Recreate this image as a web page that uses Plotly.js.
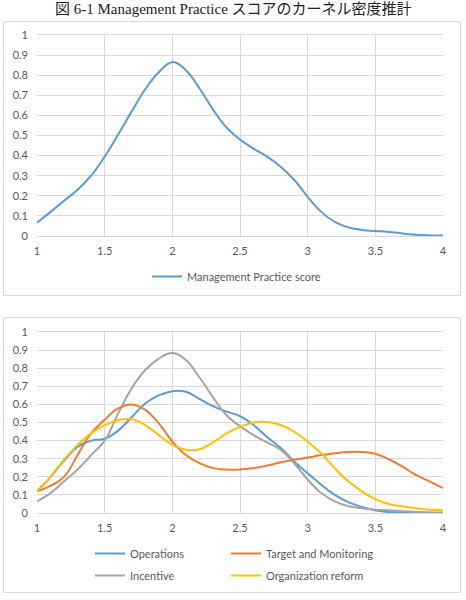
<!DOCTYPE html>
<html>
<head>
<meta charset="utf-8">
<script src="https://cdn.plot.ly/plotly-3.0.1.min.js"></script>
<style>
  html, body { margin: 0; padding: 0; background: #ffffff; }
  #chart { width: 466px; height: 600px; }
</style>
</head>
<body>
<div id="chart"></div>
<script>
// Score grid (x axis) shared by every density curve
const scoreGrid = [1.0, 1.1, 1.2, 1.3, 1.4, 1.5, 1.6, 1.7, 1.8, 1.9,
                   2.0, 2.1, 2.2, 2.3, 2.4, 2.5, 2.6, 2.7, 2.8, 2.9,
                   3.0, 3.1, 3.2, 3.3, 3.4, 3.5, 3.6, 3.7, 3.8, 3.9, 4.0];

// Kernel density of the overall Management Practice score
const managementScore = [0.066, 0.12, 0.175, 0.23, 0.30, 0.395, 0.505, 0.62, 0.73, 0.815,
                         0.865, 0.825, 0.735, 0.63, 0.54, 0.48, 0.435, 0.395, 0.345, 0.28,
                         0.195, 0.12, 0.07, 0.043, 0.03, 0.025, 0.02, 0.013, 0.006, 0.003, 0.002];

// Kernel densities by practice area
const operations = [0.12, 0.20, 0.29, 0.365, 0.40, 0.41, 0.455, 0.53, 0.605, 0.65,
                    0.673, 0.67, 0.63, 0.59, 0.56, 0.535, 0.486, 0.42, 0.36, 0.285,
                    0.22, 0.156, 0.10, 0.06, 0.033, 0.015, 0.005, 0.002, 0.001, 0.001, 0.001];
const targetMonitoring = [0.12, 0.15, 0.20, 0.32, 0.44, 0.515, 0.578, 0.60, 0.57, 0.495,
                          0.395, 0.32, 0.275, 0.248, 0.24, 0.24, 0.248, 0.262, 0.28, 0.294,
                          0.306, 0.32, 0.33, 0.337, 0.337, 0.327, 0.297, 0.257, 0.21, 0.175, 0.138];
const incentive = [0.064, 0.11, 0.175, 0.24, 0.32, 0.40, 0.55, 0.69, 0.79, 0.853,
                   0.884, 0.845, 0.75, 0.64, 0.54, 0.48, 0.43, 0.39, 0.35, 0.275,
                   0.185, 0.11, 0.064, 0.037, 0.026, 0.018, 0.015, 0.01, 0.006, 0.003, 0.002];
const orgReform = [0.12, 0.20, 0.295, 0.375, 0.44, 0.485, 0.513, 0.518, 0.486, 0.43,
                   0.376, 0.35, 0.352, 0.39, 0.44, 0.475, 0.50, 0.503, 0.486, 0.45,
                   0.394, 0.33, 0.248, 0.175, 0.12, 0.077, 0.05, 0.037, 0.026, 0.018, 0.015];

const xTicks = [1, 1.5, 2, 2.5, 3, 3.5, 4];
const xTickText = ['1', '1.5', '2', '2.5', '3', '3.5', '4'];
const yTicks = [0, 0.1, 0.2, 0.3, 0.4, 0.5, 0.6, 0.7, 0.8, 0.9, 1];
const yTickText = ['0', '0.1', '0.2', '0.3', '0.4', '0.5', '0.6', '0.7', '0.8', '0.9', '1'];

const W = 466, H = 600;
const px = v => v / W;           // pixel -> paper x
const py = v => 1 - v / H;       // pixel -> paper y

const labelFont = { family: 'Lato, "Liberation Sans", sans-serif', size: 11, color: '#595959' };
const gridColor = '#d9d9d9';

function curve(y, name, color, xa, ya, legend) {
  return {
    x: scoreGrid, y: y, name: name, type: 'scatter', mode: 'lines',
    line: { color: color, width: 2, shape: 'spline', smoothing: 1.2 },
    xaxis: xa, yaxis: ya, legend: legend, legendgroup: name, hoverinfo: 'x+y+name'
  };
}

const traces = [
  curve(managementScore, 'Management Practice score', '#5b9bd5', 'x', 'y', 'legend'),
  curve(operations, 'Operations', '#5b9bd5', 'x2', 'y2', 'legend2'),
  curve(incentive, 'Incentive', '#a5a5a5', 'x2', 'y2', 'legend2'),
  curve(targetMonitoring, 'Target and Monitoring', '#ed7d31', 'x2', 'y2', 'legend3'),
  curve(orgReform, 'Organization reform', '#ffc000', 'x2', 'y2', 'legend3')
];

function xAxis(anchor) {
  return {
    domain: [px(37), px(443)], anchor: anchor, range: [1, 4],
    tickvals: xTicks, ticktext: xTickText, showgrid: true, gridcolor: gridColor, gridwidth: 1,
    zeroline: false, showline: true, linecolor: gridColor, mirror: true,
    ticks: '', tickfont: labelFont, ticklabelstandoff: 5, fixedrange: true
  };
}
function yAxis(anchor, domain) {
  return {
    domain: domain, anchor: anchor, range: [0, 1],
    tickvals: yTicks, ticktext: yTickText, showgrid: true, gridcolor: gridColor, gridwidth: 1,
    zeroline: false, showline: false, ticks: '', tickfont: labelFont,
    ticklabelstandoff: 8, fixedrange: true
  };
}

const legendBase = {
  font: labelFont, bgcolor: 'rgba(0,0,0,0)', borderwidth: 0,
  orientation: 'v', xanchor: 'left', yanchor: 'top',
  traceorder: 'grouped', tracegroupgap: 3,
  itemclick: false, itemdoubleclick: false
};

const layout = {
  width: W, height: H,
  margin: { l: 0, r: 0, t: 0, b: 0 },
  paper_bgcolor: '#ffffff', plot_bgcolor: '#ffffff',
  showlegend: true,
  xaxis: xAxis('y'),
  yaxis: yAxis('x', [py(236), py(35)]),
  xaxis2: xAxis('y2'),
  yaxis2: yAxis('x2', [py(513), py(332)]),
  legend: Object.assign({}, legendBase, { x: px(147), y: py(262) }),
  legend2: Object.assign({}, legendBase, { x: px(90), y: py(539) }),
  legend3: Object.assign({}, legendBase, { x: px(226), y: py(539) }),
  shapes: [
    { type: 'rect', xref: 'paper', yref: 'paper', x0: px(3.5), x1: px(460.5), y0: py(295.5), y1: py(21.5),
      line: { color: '#d9d9d9', width: 1 }, fillcolor: 'rgba(0,0,0,0)', layer: 'below' },
    { type: 'rect', xref: 'paper', yref: 'paper', x0: px(3.5), x1: px(460.5), y0: py(592.5), y1: py(317.5),
      line: { color: '#d9d9d9', width: 1 }, fillcolor: 'rgba(0,0,0,0)', layer: 'below' }
  ],
  annotations: [
    { text: '図 6-1 Management Practice スコアのカーネル密度推計',
      xref: 'paper', yref: 'paper', x: px(233), y: py(9), xanchor: 'center', yanchor: 'middle',
      showarrow: false,
      font: { family: '"Liberation Serif", "Noto Sans CJK JP", serif', size: 15, color: '#222222' } }
  ]
};

Plotly.newPlot('chart', traces, layout, { displayModeBar: false, staticPlot: true });
</script>
</body>
</html>
